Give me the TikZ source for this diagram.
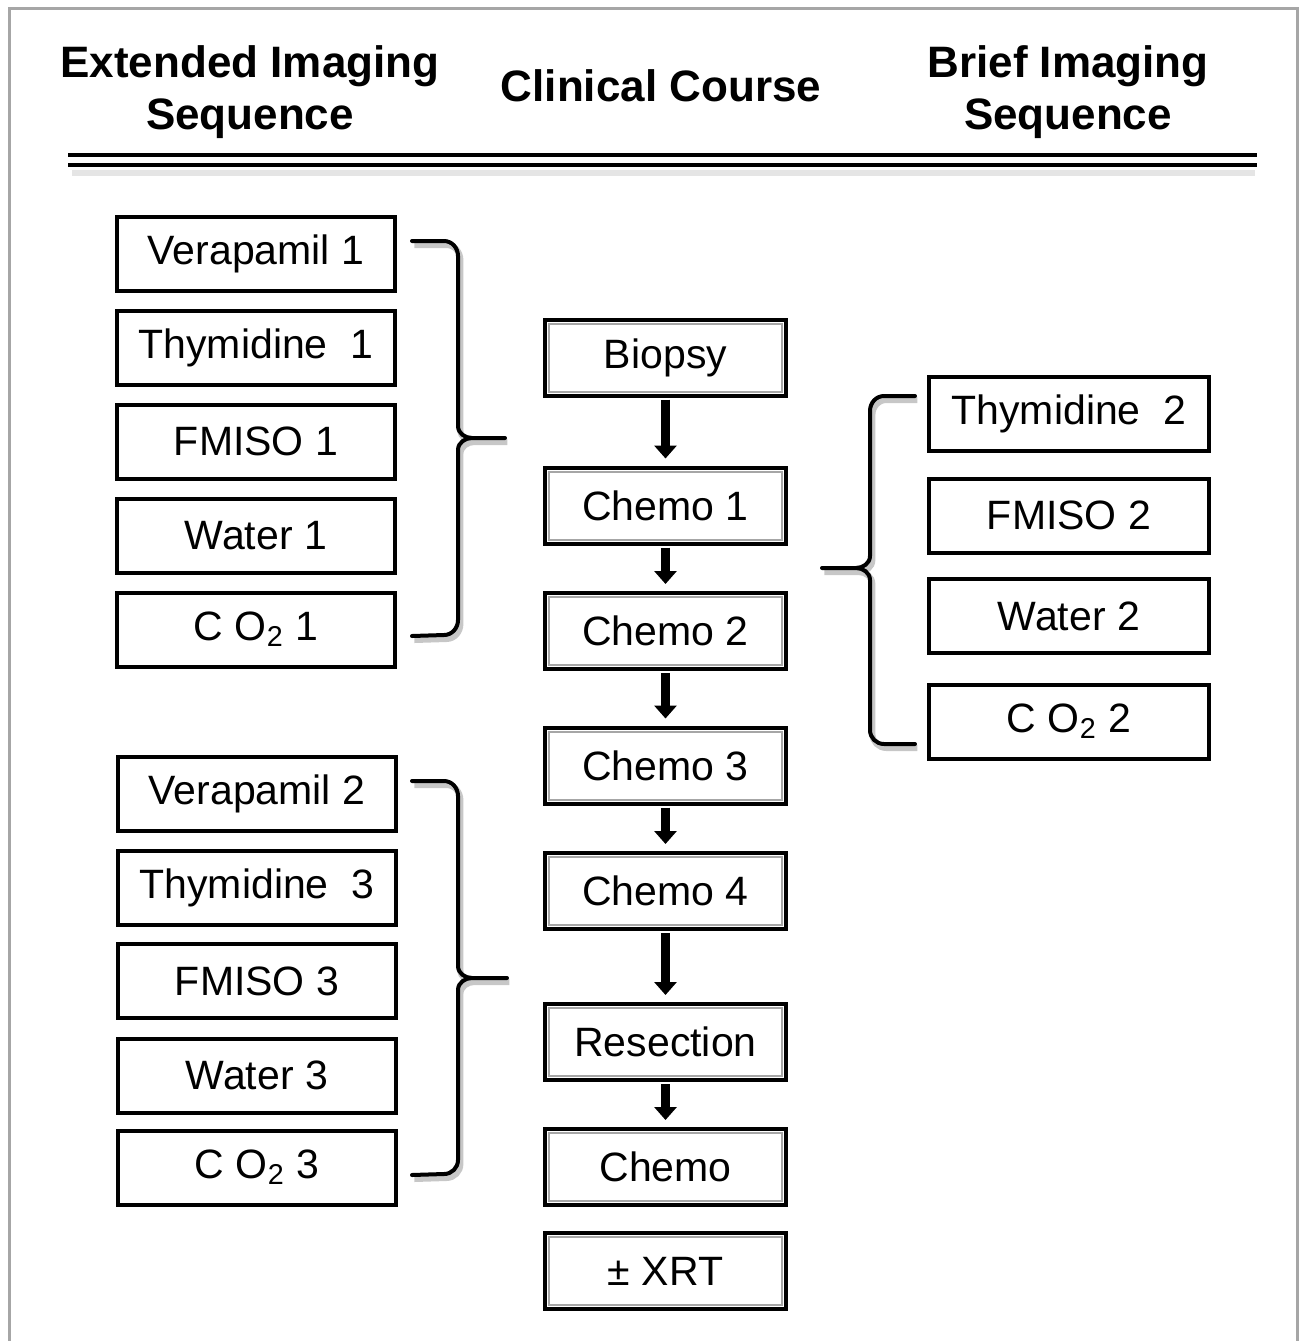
\documentclass[tikz,border=0pt]{standalone}
\usepackage{fontspec}
\setmainfont{Liberation Sans}
\usetikzlibrary{arrows.meta}

\newcommand{\boxfont}{\fontsize{20.5}{24}\selectfont}
\newcommand{\headfont}{\fontsize{22}{26}\selectfont\bfseries}

\tikzset{
  scan/.style={draw, line width=2pt, minimum width=139pt, minimum height=37pt,
    inner sep=0pt, font=\boxfont},
  course/.style={scan, minimum width=120.5pt, minimum height=38pt,
    path picture={
      \draw [black!35, line width=1pt]
        ([shift={(2pt,-2pt)}]path picture bounding box.north west)
        rectangle
        ([shift={(-2pt,2pt)}]path picture bounding box.south east);
    }},
  flow/.style={line width=4.5pt, -{Triangle[width=11pt,length=6.5pt]},
    shorten <=1pt, shorten >=3.5pt},
  bracket/.style={line width=2pt, line cap=round,
    preaction={draw=black!22, line width=3pt,
      transform canvas={xshift=1.2pt,yshift=-2pt}}},
  head/.style={align=center, font=\headfont}
}

\begin{document}
\begin{tikzpicture}[x=0.5pt,y=-0.5pt]
  \useasboundingbox (0,0) rectangle (1305,1341);
  \draw [black!35, line width=1.5pt] (9,1345) |- (1297,8) -- (1297,1345);

  % column titles
  \node [head] (ext head) at (250,92) {Extended Imaging\\Sequence};
  \node [head] (course head) at (661,86) {Clinical Course};
  \node [head] (brief head) at (1068,92) {Brief Imaging\\Sequence};
  \draw [black!10, line width=3pt] (72,173) -- (1255,173);
  \draw [line width=2pt] (68,155) -- (1257,155);
  \draw [line width=2pt] (68,165) -- (1257,165);

  % extended imaging, first run
  \foreach \nm/\y/\txt in {
      vera1/254/Verapamil 1,
      thym1/347.5/Thymidine\ \ 1,
      fmiso1/441.5/FMISO 1,
      water1/535.5/Water 1,
      co1/629.5/C O\textsubscript{2} 1}{
    \node [scan] (\nm) at (256,\y) {\txt};
  }

  % extended imaging, second run
  \foreach \nm/\y/\txt in {
      vera2/793.5/Verapamil 2,
      thym3/888/Thymidine\ \ 3,
      fmiso3/981/FMISO 3,
      water3/1075.5/Water 3,
      co3/1167.5/C O\textsubscript{2} 3}{
    \node [scan] (\nm) at (257,\y) {\txt};
  }

  % brief imaging
  \foreach \nm/\y/\txt in {
      thym2/414/Thymidine\ \ 2,
      fmiso2/515.5/FMISO 2,
      water2/616/Water 2,
      co2/721.5/C O\textsubscript{2} 2}{
    \node [scan, minimum width=140pt] (\nm) at (1069,\y) {\txt};
  }

  % clinical course
  \foreach \nm/\y/\txt in {
      biopsy/357.5/Biopsy,
      chemoA/505.5/Chemo 1,
      chemoB/631/Chemo 2,
      chemoC/765.5/Chemo 3,
      chemoD/891/Chemo 4,
      resect/1042/Resection,
      chemo/1167/Chemo,
      xrt/1271/± XRT}{
    \node [course] (\nm) at (665.5,\y) {\txt};
  }

  \draw [flow] (biopsy) -- (chemoA);
  \draw [flow] (chemoA) -- (chemoB);
  \draw [flow] (chemoB) -- (chemoC);
  \draw [flow] (chemoC) -- (chemoD);
  \draw [flow] (chemoD) -- (resect);
  \draw [flow] (resect) -- (chemo);

  % braces
  \draw [bracket]
    (412,241) -- (444,241) to[out=0,in=90] (458,256)
    -- (458,426) to[out=-90,in=180] (472,438) -- (505,438)
    (472,438) to[out=180,in=90] (458,450)
    -- (458,620) to[out=-90,in=0] (444,635) -- (412,636);
  \draw [bracket]
    (412,781) -- (444,781) to[out=0,in=90] (458,796)
    -- (458,966) to[out=-90,in=180] (472,978) -- (507,978)
    (472,978) to[out=180,in=90] (458,990)
    -- (458,1160) to[out=-90,in=0] (444,1174) -- (412,1175);
  \draw [bracket]
    (915,396) -- (884,396) to[out=180,in=90] (870,411)
    -- (870,556) to[out=-90,in=0] (856,568) -- (822,568)
    (856,568) to[out=0,in=90] (870,580)
    -- (870,730) to[out=-90,in=180] (884,744) -- (915,744);
\end{tikzpicture}
\end{document}
